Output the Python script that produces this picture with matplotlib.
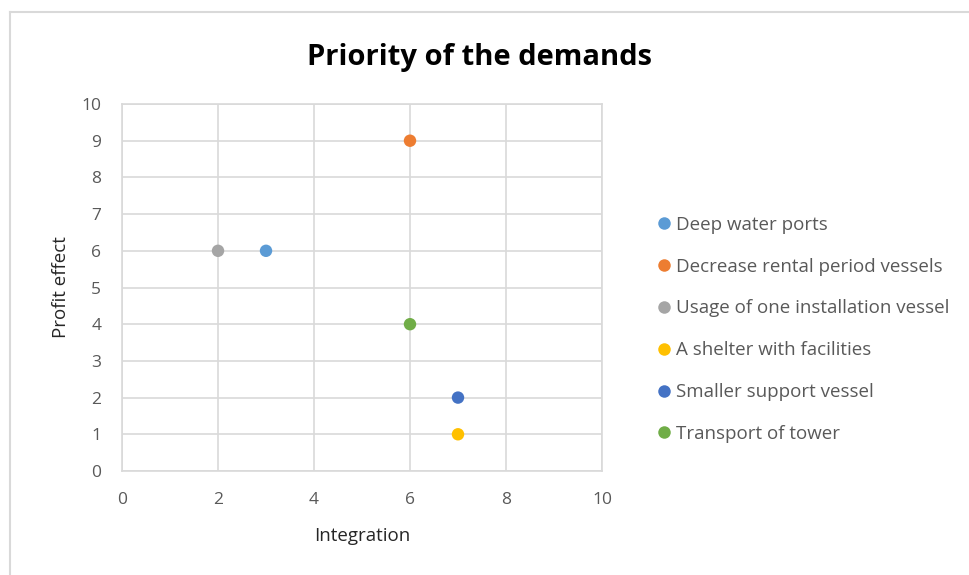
import matplotlib
matplotlib.use("Agg")
import matplotlib.pyplot as plt
from matplotlib.lines import Line2D

# Demands: integration score (x) and profit effect (y)
demandas = ["Deep water ports", "Decrease rental period vessels",
            "Usage of one installation vessel", "A shelter with facilities",
            "Smaller support vessel", "Transport of tower"]
integracao = [3, 6, 2, 7, 7, 6]
efeito_lucro = [6, 9, 6, 1, 2, 4]
cores = ["#5B9BD5", "#ED7D31", "#A5A5A5", "#FFC000", "#4472C4", "#70AD47"]

plt.rcParams["font.family"] = ["Open Sans", "DejaVu Sans"]

fig = plt.figure(figsize=(9.7, 5.75), dpi=100)
ax = fig.add_axes([0.1258, 0.1809, 0.4948, 0.6382])

for nome, x, y, cor in zip(demandas, integracao, efeito_lucro, cores):
    ax.scatter(x, y, s=80, color=cor, label=nome, zorder=3, edgecolors="none")

ax.set_xlim(0, 10)
ax.set_ylim(0, 10)
ax.set_xticks(range(0, 11, 2))
ax.set_yticks(range(0, 11, 1))
ax.grid(True, color="#D9D9D9", linewidth=1.2)
ax.set_axisbelow(True)
for lado in ax.spines.values():
    lado.set_color("#D9D9D9")
    lado.set_linewidth(1.2)
ax.tick_params(length=0, labelsize=12.5, labelcolor="#595959", pad=15)
ax.tick_params(axis="x", pad=15)

ax.set_xlabel("Integration", fontsize=13.5, color="#262626", labelpad=14)
ax.set_ylabel("Profit effect", fontsize=13.5, color="#262626", labelpad=8)
fig.text(0.4948, 0.9, "Priority of the demands", ha="center", va="center",
         fontsize=21, fontweight="bold", color="black")

# Legend to the right of the plot area
handles = [Line2D([0], [0], marker="o", linestyle="none", markersize=9,
                  markerfacecolor=c, markeredgecolor="none") for c in cores]
fig.legend(handles, demandas, loc="upper left", bbox_to_anchor=(0.656, 0.654),
           frameon=False, fontsize=13.5, labelcolor="#595959",
           handletextpad=0.0, labelspacing=1.27, handlelength=1.2)

# Light chart border
fig.add_artist(Line2D([0.0098, 1.0], [0.9800, 0.9800], color="#D9D9D9",
                      linewidth=1.5, transform=fig.transFigure))
fig.add_artist(Line2D([0.0098, 0.0098], [0.0, 0.9800], color="#D9D9D9",
                      linewidth=1.5, transform=fig.transFigure))

fig.savefig("out.png", dpi=100)
